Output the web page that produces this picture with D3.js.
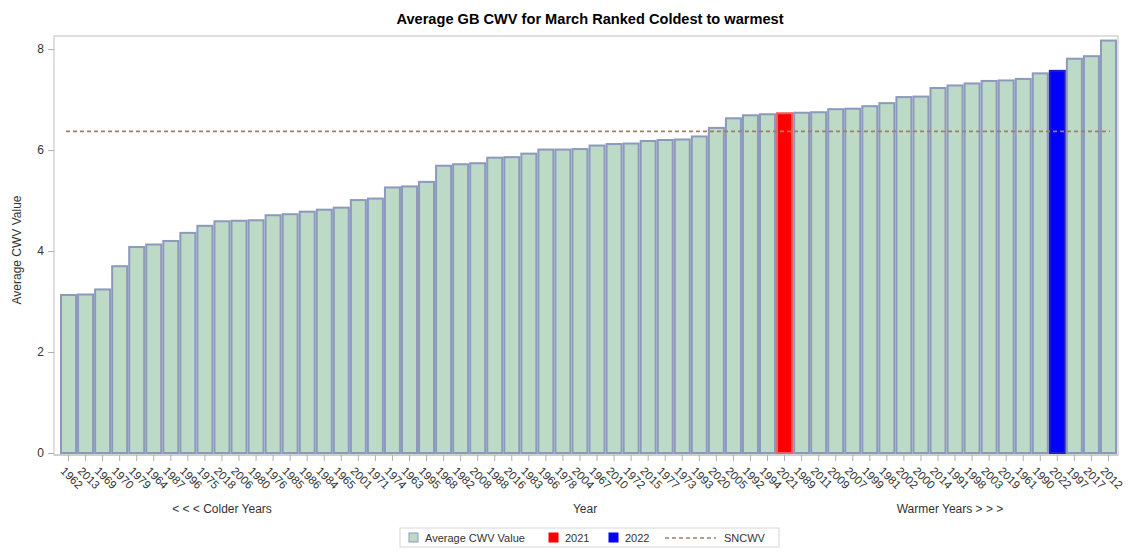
<!DOCTYPE html>
<html lang="en">
<head>
  <meta charset="UTF-8">
  <title>Average GB CWV for March Ranked Coldest to warmest</title>
  <script src="https://d3js.org/d3.v7.min.js"></script>
  <style>
    body { margin: 0; padding: 0; background: #fff; font-family: "Liberation Sans", Arial, sans-serif; }
    svg text { fill: #333; }
  </style>
</head>
<body>
  <div id="vis"></div>
  <script>
    // years ranked coldest -> warmest, with their average CWV
    const years = [1962, 2013, 1969, 1970, 1979, 1964, 1987, 1996, 1975, 2018,
      2006, 1980, 1976, 1985, 1986, 1984, 1965, 2001, 1971, 1974,
      1963, 1995, 1968, 1982, 2008, 1988, 2016, 1983, 1966, 1978,
      2004, 1967, 2010, 1972, 2015, 1977, 1973, 1993, 2020, 2005,
      1992, 1994, 2021, 1989, 2011, 2009, 2007, 1999, 1981, 2002,
      2000, 2014, 1991, 1998, 2003, 2019, 1961, 1990, 2022, 1997,
      2017, 2012];
    const cwv = [3.13, 3.14, 3.24, 3.70, 4.08, 4.13, 4.20, 4.36, 4.50, 4.59,
      4.60, 4.61, 4.71, 4.73, 4.78, 4.82, 4.86, 5.01, 5.04, 5.26,
      5.28, 5.37, 5.69, 5.72, 5.74, 5.85, 5.86, 5.93, 6.01, 6.01,
      6.02, 6.09, 6.12, 6.13, 6.18, 6.20, 6.21, 6.27, 6.44, 6.63,
      6.69, 6.71, 6.73, 6.74, 6.75, 6.81, 6.82, 6.87, 6.93, 7.05,
      7.06, 7.23, 7.28, 7.32, 7.37, 7.38, 7.41, 7.52, 7.57, 7.81,
      7.86, 8.17];
    const sncwv = 6.37;
    const yTicks = [0, 2, 4, 6, 8];
    const highlight = { 2021: "#ff0000", 2022: "#0000ff" };

    const width = 1130, height = 552;
    const svg = d3.select("#vis").append("svg")
      .attr("width", width)
      .attr("height", height);

    const data = years.map((y, i) => ({ year: y, value: cwv[i] }));

    const x = d3.scaleBand()
      .domain(years)
      .range([60, 1117])
      .paddingInner(0.12)
      .paddingOuter(0.06);

    const y = d3.scaleLinear()
      .domain([0, 8.26])
      .range([453, 36]);

    // plot frame
    svg.append("rect")
      .attr("x", 54).attr("y", 36)
      .attr("width", 1118 - 54).attr("height", 455 - 36)
      .attr("fill", "none")
      .attr("stroke", "#d3d6d6")
      .attr("stroke-width", 1.5);

    // title
    svg.append("text")
      .attr("x", 590).attr("y", 24)
      .attr("text-anchor", "middle")
      .style("font-size", "14.6px")
      .style("font-weight", "bold")
      .style("fill", "#000")
      .text("Average GB CWV for March Ranked Coldest to warmest");

    // y axis
    const yAxis = svg.append("g")
      .attr("transform", "translate(54,0)")
      .call(d3.axisLeft(y).tickValues(yTicks).tickSize(6).tickPadding(4));
    yAxis.select(".domain").remove();
    yAxis.selectAll(".tick line").attr("stroke", "#b0b0b0");
    yAxis.selectAll(".tick text").style("font-size", "12px").style("fill", "#333")
      .style("font-family", "Liberation Sans, Arial, sans-serif");

    svg.append("text")
      .attr("transform", "translate(21,250) rotate(-90)")
      .attr("text-anchor", "middle")
      .style("font-size", "12px")
      .text("Average CWV Value");

    // bars
    svg.selectAll("rect.bar")
      .data(data)
      .enter().append("rect")
      .attr("class", "bar")
      .attr("x", d => x(d.year))
      .attr("y", d => y(d.value))
      .attr("width", x.bandwidth())
      .attr("height", d => y(0) - y(d.value))
      .attr("fill", d => highlight[d.year] || "#bcdac6")
      .attr("stroke", d => d.year === 2021 ? "#e86060" : d.year === 2022 ? "#2020c0" : "#8d98bd")
      .attr("stroke-width", 2);

    // x axis
    const xAxis = svg.append("g")
      .attr("transform", "translate(0,455)")
      .call(d3.axisBottom(x).tickSize(6).tickPadding(2));
    xAxis.select(".domain").attr("stroke", "#c8cbcb").attr("stroke-width", 1.5)
      .attr("d", "M54,0H1118");
    xAxis.selectAll(".tick line").attr("stroke", "#b0b0b0");
    xAxis.selectAll(".tick text")
      .style("font-size", "11.5px")
      .style("fill", "#333")
      .style("font-family", "Liberation Sans, Arial, sans-serif")
      .attr("text-anchor", "start")
      .attr("dy", "0")
      .attr("transform", "translate(-3,11) rotate(45)");

    // sncwv reference line
    svg.append("line")
      .attr("x1", 66).attr("x2", 1110)
      .attr("y1", y(sncwv)).attr("y2", y(sncwv))
      .attr("stroke", "#9c8064")
      .attr("stroke-width", 1.6)
      .attr("stroke-dasharray", "4,3");

    // axis annotations
    const notes = [
      { text: "< < < Colder Years", x: 222 },
      { text: "Year", x: 585 },
      { text: "Warmer Years > > >", x: 950 }
    ];
    svg.selectAll("text.note")
      .data(notes)
      .enter().append("text")
      .attr("class", "note")
      .attr("x", d => d.x).attr("y", 513)
      .attr("text-anchor", "middle")
      .style("font-size", "12px")
      .text(d => d.text);

    // legend
    const legend = svg.append("g").attr("transform", "translate(400,528)");
    legend.append("rect")
      .attr("width", 379).attr("height", 19)
      .attr("fill", "#fff").attr("stroke", "#d3d6d6");
    const items = [
      { label: "Average CWV Value", fill: "#bcdac6", stroke: "#8d98bd", x: 9 },
      { label: "2021", fill: "#ff0000", stroke: "#ff0000", x: 149 },
      { label: "2022", fill: "#0000ff", stroke: "#0000ff", x: 209 }
    ];
    items.forEach(d => {
      legend.append("rect")
        .attr("x", d.x).attr("y", 5).attr("width", 9).attr("height", 9)
        .attr("fill", d.fill).attr("stroke", d.stroke);
      legend.append("text")
        .attr("x", d.x + 16).attr("y", 14)
        .style("font-size", "11px")
        .text(d.label);
    });
    legend.append("line")
      .attr("x1", 265).attr("x2", 316).attr("y1", 10).attr("y2", 10)
      .attr("stroke", "#9c8064").attr("stroke-width", 1.4)
      .attr("stroke-dasharray", "4,3");
    legend.append("text")
      .attr("x", 324).attr("y", 14)
      .style("font-size", "11px")
      .text("SNCWV");
  </script>
</body>
</html>
